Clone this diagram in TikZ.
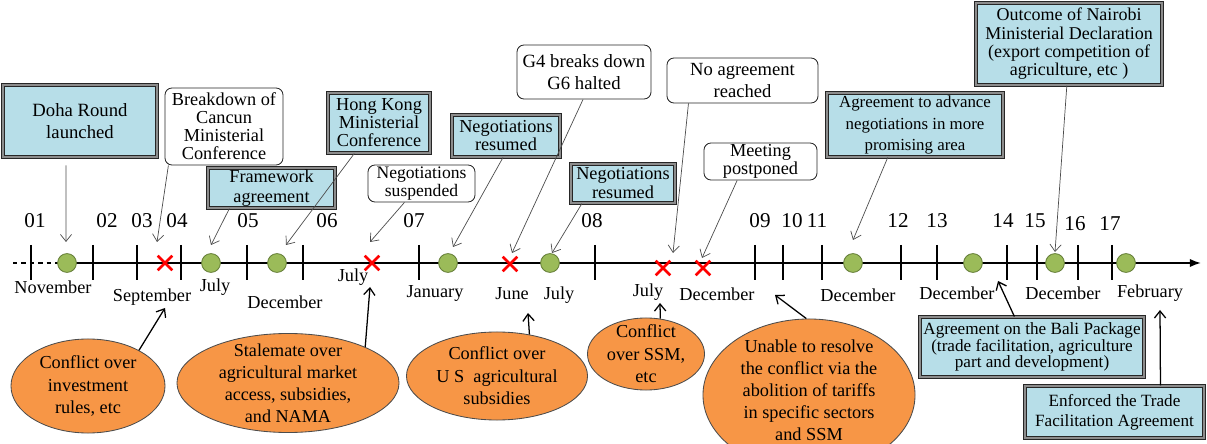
\documentclass[tikz,border=0pt]{standalone}
\usepackage{fontspec}
\setmainfont{Liberation Serif}
\usetikzlibrary{arrows.meta,positioning,shapes.geometric,shapes.misc}
\definecolor{boxblue}{RGB}{183,222,232}
\definecolor{bubble}{RGB}{247,150,70}
\definecolor{dotgreen}{RGB}{155,187,89}
\definecolor{dotedge}{RGB}{100,125,55}

\begin{document}
\begin{tikzpicture}[x=0.025cm, y=-0.025cm,
  evbox/.style={draw=black!85, double=black!45, double distance=0.8pt, line width=0.75pt,
    fill=boxblue, align=center, inner sep=1pt},
  notebox/.style={draw=black!85, rounded corners=5pt, fill=white, line width=0.6pt,
    align=center, inner sep=1pt},
  bubbleshape/.style={ellipse, draw=black!70, fill=bubble, line width=0.6pt, inner sep=0pt},
  bubbletxt/.style={align=center, inner sep=0pt, font=\fontsize{13}{16}\selectfont},
  pin/.style={-{Straight Barb[length=5pt,width=8pt]}, black!70, line width=0.5pt},
  backpin/.style={-{Straight Barb[length=5pt,width=8pt]}, black, line width=0.9pt},
  tick/.style={line width=1pt},
  evdot/.style={circle, draw=dotedge, fill=dotgreen, minimum size=0.47cm, inner sep=0pt, line width=0.6pt},
  stopmark/.style={cross out, draw=red, line width=1.8pt, minimum size=0.3cm, inner sep=0pt},
  yearlbl/.style={font=\fontsize{15}{15}\selectfont, inner sep=0pt},
  monthlbl/.style={font=\fontsize{13}{13}\selectfont, inner sep=0pt}]
  \useasboundingbox (0,0) rectangle (1207,444);

  % time axis
  \coordinate (axL) at (13,263);
  \coordinate (axM) at (57,263);
  \coordinate (axR) at (1201,263);
  \draw[line width=1.3pt, dashed] (axL) -- (axM);
  \draw[line width=1.3pt, -{Latex[length=8pt,width=6pt]}] (axM) -- (axR);
  \foreach \xx in {31,93,137,181,247,303,419,595,755,783,822,901,937,1007,1037,1078,1112}
    \draw[tick] (\xx,245) -- (\xx,280);

  \foreach \yr/\xx/\yy in {01/35/221, 02/107/221, 03/142/221, 04/177/221, 05/248/221,
      06/327/221, 07/414/221, 08/592/221, 09/760/221, 10/792/221, 11/817/221,
      12/898/221, 13/937/221, 14/1003/221, 15/1035/221, 16/1075/224, 17/1110/224}
    \node[yearlbl] (yr\yr) at (\xx,\yy) {\yr};

  \foreach \xx [count=\i] in {67,211,277,448,550,853,973,1055,1126}
    \node[evdot] (dot\i) at (\xx,263) {};
  \foreach \xx/\yy [count=\i] in {165/263,372/263,510/264,663/268,703/268}
    \node[stopmark] (stop\i) at (\xx,\yy) {};

  \foreach \mn/\xx/\yy [count=\i] in {November/53/287, September/152/297, July/215/287,
      December/285/302, July/353/277, January/435/293, June/512/294, July/559/295,
      July/648/292, December/717/294, December/858/295, December/957/293,
      December/1063/293, February/1150/293}
    \node[monthlbl] (mo\i) at (\xx,\yy) {\mn};

  % events above the axis
  \node[evbox, minimum width=3.85cm, minimum height=1.8cm, font=\fontsize{13.3}{16}\selectfont]
    (doha) at (80,121) {Doha Round\\launched};
  \node[notebox, minimum width=2.95cm, minimum height=1.925cm, font=\fontsize{13}{12.8}\selectfont]
    (cancun) at (224,126.5) {Breakdown of\\Cancun\\Ministerial\\Conference};
  \node[evbox, minimum width=3.175cm, minimum height=1cm, font=\fontsize{13}{14}\selectfont]
    (frame) at (271.5,188) {Framework\\agreement};
  \node[evbox, minimum width=2.55cm, minimum height=1.5cm, font=\fontsize{13}{12.8}\selectfont]
    (hongkong) at (379,123) {Hong Kong\\Ministerial\\Conference};
  \node[notebox, minimum width=2.675cm, minimum height=0.925cm, font=\fontsize{12.5}{12.5}\selectfont]
    (susp) at (421.5,183.5) {Negotiations\\suspended};
  \node[evbox, minimum width=2.7cm, minimum height=1.05cm, font=\fontsize{13}{12.8}\selectfont]
    (resumeA) at (506,136) {Negotiations\\resumed};
  \node[notebox, minimum width=3.35cm, minimum height=1.35cm, font=\fontsize{13.3}{15.4}\selectfont]
    (gfour) at (584,72) {G4 breaks down\\G6 halted};
  \node[evbox, minimum width=2.6cm, minimum height=0.975cm, font=\fontsize{13}{13.5}\selectfont]
    (resumeB) at (623,183.5) {Negotiations\\resumed};
  \node[notebox, minimum width=3.775cm, minimum height=1.125cm, font=\fontsize{13.2}{15.6}\selectfont]
    (noagree) at (742.5,80.5) {No agreement\\reached};
  \node[notebox, minimum width=2.825cm, minimum height=0.925cm, font=\fontsize{13}{12.8}\selectfont]
    (postpone) at (760.5,161.5) {Meeting\\postponed};
  \node[evbox, minimum width=4.4cm, minimum height=1.6cm, font=\fontsize{12}{15.4}\selectfont]
    (advance) at (915,125) {Agreement to advance\\negotiations in more\\promising area};
  \node[evbox, minimum width=4.65cm, minimum height=2.05cm, font=\fontsize{12.8}{13}\selectfont]
    (nairobi) at (1069,44) {Outcome of Nairobi\\Ministerial Declaration\\(export competition of\\agriculture, etc )};

  % events below the axis
  \node[bubbleshape, minimum width=3.85cm, minimum height=2.35cm] (invest) at (88,386) {};
  \node[bubbletxt] (investTxt) at (invest) {Conflict over\\investment\\rules, etc};
  \node[bubbleshape, minimum width=5.55cm, minimum height=2.475cm] (stale) at (288,383) {};
  \node[bubbletxt, font=\fontsize{12.9}{15.6}\selectfont] (staleTxt) at (stale)
    {Stalemate over\\agricultural market\\access, subsidies,\\and NAMA};
  \node[bubbleshape, minimum width=4.525cm, minimum height=2.2cm] (usagri) at (497,376) {};
  \node[bubbletxt] (usagriTxt) at (usagri) {Conflict over\\U S\ \ agricultural\\subsidies};
  \node[bubbleshape, minimum width=2.925cm, minimum height=1.8cm] (ssm) at (646,354) {};
  \node[bubbletxt] (ssmTxt) at (ssm) {Conflict\\over SSM,\\etc};
  \node[bubbleshape, minimum width=5.3cm, minimum height=3.8cm] (unable) at (809,395) {};
  \node[bubbletxt, font=\fontsize{13}{15.6}\selectfont] (unableTxt) at (809,390)
    {Unable to resolve\\the conflict via the\\abolition of tariffs\\in specific sectors\\and SSM};
  \node[evbox, minimum width=5.6cm, minimum height=1.5cm, font=\fontsize{12.2}{12}\selectfont]
    (bali) at (1032,347) {Agreement on the Bali Package\\(trade facilitation, agriculture\\part and development)};
  \node[evbox, minimum width=4.475cm, minimum height=1.3cm, font=\fontsize{12.2}{14}\selectfont]
    (enforce) at (1114.5,412) {Enforced the Trade\\Facilitation Agreement};

  % arrow ends
  \coordinate (tDoha) at (66,242);
  \coordinate (tCancun) at (157,242);
  \coordinate (tFrame) at (211,245);
  \coordinate (tHK) at (286,245);
  \coordinate (tSusp) at (370,242);
  \coordinate (tResA) at (453,247);
  \coordinate (tGfour) at (512,253);
  \coordinate (tResB) at (552,253);
  \coordinate (tNoAgr) at (673,253);
  \coordinate (tPost) at (702,258);
  \coordinate (tAdv) at (853,240);
  \coordinate (tNair) at (1055,252);
  \coordinate (tInv) at (165,308);
  \coordinate (tStale) at (370,287);
  \coordinate (tUS) at (528,313);
  \coordinate (tSSM) at (660,303);
  \coordinate (tUnable) at (775,295);
  \coordinate (tBali) at (998,281);
  \coordinate (tEnf) at (1160,310);

  \draw[pin, shorten <=5.5pt] (doha.-111) -- (tDoha);
  \draw[pin] (cancun.-145) -- (tCancun);
  \draw[pin] (frame.-154) -- (tFrame);
  \draw[pin] (hongkong.-129) -- (tHK);
  \draw[pin] (susp.-132) -- (tSusp);
  \draw[pin] (resumeA.-98) -- (tResA);
  \draw[pin] (gfour.-92) -- (tGfour);
  \draw[pin] (resumeB.-154) -- (tResB);
  \draw[pin] (noagree.-157) -- (tNoAgr);
  \draw[pin] (postpone.-141) -- (tPost);
  \draw[pin] (advance.-130) -- (tAdv);
  \draw[pin] (nairobi.-93) -- (tNair);

  \draw[backpin] (invest.35) -- (tInv);
  \draw[backpin] (stale.25) -- (tStale);
  \draw[backpin] (usagri.52) -- (tUS);
  \draw[backpin] (ssm.68) -- (tSSM);
  \draw[backpin] (unable.92) -- (tUnable);
  \draw[backpin] (bali.120) -- (tBali);
  \draw[backpin] (enforce.30) -- (tEnf);
\end{tikzpicture}
\end{document}
